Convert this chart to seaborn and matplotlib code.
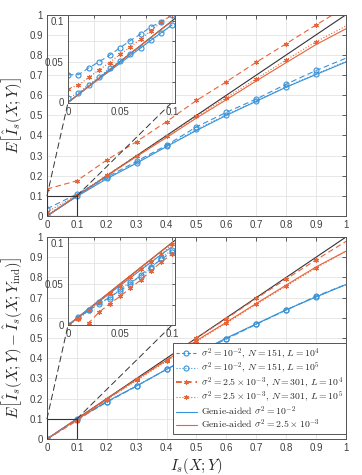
import numpy as np
import pandas as pd
import matplotlib
matplotlib.use("Agg")
import matplotlib.pyplot as plt
import seaborn as sns
from matplotlib.patches import ConnectionPatch, Rectangle
from matplotlib.lines import Line2D

# ---------------- data ----------------
x_main = [0.0, 0.1, 0.2, 0.3, 0.4, 0.5, 0.6, 0.7, 0.8, 0.9, 1.0]
x_zoom = [0.0, 0.01, 0.02, 0.03, 0.04, 0.05, 0.06, 0.07, 0.08, 0.09, 0.1]
ref_line = [0.0, 1.0]

genie_blue = [0.0, 0.097, 0.185, 0.263, 0.345, 0.425, 0.500, 0.570, 0.640, 0.703, 0.765]
genie_orange = [0.0, 0.100, 0.199, 0.296, 0.390, 0.487, 0.578, 0.671, 0.762, 0.852, 0.930]
genie_blue_zoom = [0.0, 0.0098, 0.0195, 0.029, 0.0385, 0.048, 0.0575, 0.067, 0.0765, 0.086, 0.095]
genie_orange_zoom = [0.0, 0.010, 0.020, 0.030, 0.040, 0.050, 0.060, 0.070, 0.080, 0.090, 0.0995]

# top panel: E[I_s(X;Y)]
top_blue_L4 = [0.036, 0.109, 0.193, 0.272, 0.352, 0.443, 0.515, 0.581, 0.655, 0.723, 0.784]
top_blue_L5 = [0.006, 0.100, 0.187, 0.265, 0.347, 0.430, 0.503, 0.572, 0.642, 0.706, 0.768]
top_orange_L4 = [0.134, 0.175, 0.278, 0.370, 0.469, 0.574, 0.667, 0.764, 0.856, 0.949, 1.040]
top_orange_L5 = [0.020, 0.103, 0.203, 0.300, 0.396, 0.495, 0.588, 0.682, 0.775, 0.866, 0.944]
top_blue_L4_zoom = [0.034, 0.034, 0.0425, 0.050, 0.058, 0.067, 0.076, 0.084, 0.093, 0.099, 0.107]
top_blue_L5_zoom = [0.005, 0.012, 0.022, 0.031, 0.042, 0.051, 0.060, 0.067, 0.077, 0.085, 0.095]
top_orange_L5_zoom = [0.017, 0.021, 0.031, 0.040, 0.049, 0.059, 0.068, 0.078, 0.088, 0.099, 0.108]

# bottom panel: E[I_s(X;Y) - I_s(X;Y_ind)]
bot_blue_L4 = [0.0, 0.096, 0.182, 0.262, 0.345, 0.422, 0.495, 0.568, 0.638, 0.707, 0.765]
bot_blue_L5 = [0.0, 0.097, 0.184, 0.263, 0.345, 0.424, 0.497, 0.569, 0.639, 0.705, 0.764]
bot_orange_L4 = [0.0, 0.090, 0.196, 0.295, 0.393, 0.500, 0.596, 0.696, 0.792, 0.887, 0.978]
bot_orange_L5 = [0.0, 0.095, 0.195, 0.290, 0.385, 0.483, 0.574, 0.667, 0.757, 0.847, 0.930]
bot_blue_L4_zoom = [0.0, 0.009, 0.018, 0.026, 0.034, 0.042, 0.050, 0.061, 0.071, 0.080, 0.089]
bot_blue_L5_zoom = [0.0, 0.010, 0.019, 0.028, 0.032, 0.044, 0.052, 0.059, 0.069, 0.082, 0.091]
bot_orange_L4_zoom = [-0.020, -0.009, 0.003, 0.016, 0.026, 0.035, 0.045, 0.055, 0.066, 0.077, 0.086]
bot_orange_L5_zoom = [0.0, 0.008, 0.018, 0.028, 0.039, 0.048, 0.058, 0.068, 0.077, 0.086, 0.098]

main_ticks = [0.0, 0.1, 0.2, 0.3, 0.4, 0.5, 0.6, 0.7, 0.8, 0.9, 1.0]
main_ticklabels = ["0", "0.1", "0.2", "0.3", "0.4", "0.5", "0.6", "0.7", "0.8", "0.9", "1"]
zoom_ticks = [0.0, 0.025, 0.05, 0.075, 0.1]
zoom_ticklabels = ["0", "", "0.05", "", "0.1"]

legend_labels = [
    r"$\sigma^2 = 10^{-2}$, $N = 151$, $L = 10^4$",
    r"$\sigma^2 = 10^{-2}$, $N = 151$, $L = 10^5$",
    r"$\sigma^2 = 2.5 \times 10^{-3}$, $N = 301$, $L = 10^4$",
    r"$\sigma^2 = 2.5 \times 10^{-3}$, $N = 301$, $L = 10^5$",
    r"Genie-aided $\sigma^2 = 10^{-2}$",
    r"Genie-aided $\sigma^2 = 2.5 \times 10^{-3}$",
]

# ---------------- style ----------------
sns.set_theme(style="white")
plt.rcParams["font.family"] = ["Liberation Sans", "DejaVu Sans"]
plt.rcParams["mathtext.fontset"] = "cm"
plt.rcParams["axes.unicode_minus"] = False

BLUE = "#3a93d8"
ORANGE = "#e6643a"
BLACK = "#333333"
LW = 0.8
TICKC = "#404040"
MS = 3.6

W, H = 362, 475
fig = plt.figure(figsize=(W / 100, H / 100), dpi=100)


def fx(px):
    return px / W


def fy(py):
    return 1 - py / H


ax_top = fig.add_axes([fx(47), fy(216), fx(346) - fx(47), fy(14.7) - fy(216)])
ax_bot = fig.add_axes([fx(47), fy(439), fx(346) - fx(47), fy(237) - fy(439)])
in_top = fig.add_axes([fx(68), fy(102.5), fx(175) - fx(68), fy(14.7) - fy(102.5)])
in_bot = fig.add_axes([fx(68), fy(325.3), fx(175) - fx(68), fy(237) - fy(325.3)])


def draw(ax, x, y, color, ls, marker=None, mfc="none", ms=MS, me=None, lw=LW):
    kw = dict(x=x, y=y, ax=ax, color=color, linestyle=ls, lw=lw,
              estimator=None, sort=False, legend=False)
    if marker is not None:
        kw.update(marker=marker, markersize=ms, markerfacecolor=mfc,
                  markeredgecolor=color, markeredgewidth=0.8)
        if me is not None:
            kw.update(markevery=me)
    sns.lineplot(**kw)


main_me = list(range(10))
ASTER = (6, 2, 0)


def style_axes(ax, ticks, labels, lim, fs=7):
    ax.set_xlim(lim[0], lim[1])
    ax.set_ylim(lim[2], lim[3])
    ax.set_xticks(ticks)
    ax.set_yticks(ticks)
    ax.set_xticklabels(labels)
    ax.set_yticklabels(labels)
    ax.tick_params(direction="in", length=3, width=0.6, top=True, right=True,
                   labelsize=fs, colors=TICKC, pad=3)
    ax.grid(True, color="#e3e3e3", lw=0.6)
    ax.set_axisbelow(True)
    for s in ax.spines.values():
        s.set_color("#555555")
        s.set_linewidth(0.7)
        s.set_visible(True)
    ax.set_xlabel("")
    ax.set_ylabel("")
    ax.set_facecolor("white")


for ax, bl4, bl5, ol4, ol5 in [
    (ax_top, top_blue_L4, top_blue_L5, top_orange_L4, top_orange_L5),
    (ax_bot, bot_blue_L4, bot_blue_L5, bot_orange_L4, bot_orange_L5),
]:
    draw(ax, ref_line, ref_line, BLACK, "-")
    draw(ax, x_main, genie_blue, BLUE, "-")
    draw(ax, x_main, genie_orange, ORANGE, "-")
    draw(ax, x_main, bl4, BLUE, (0, (5, 3)), "o", me=main_me)
    draw(ax, x_main, bl5, BLUE, ":", "o", me=main_me)
    draw(ax, x_main, ol4, ORANGE, (0, (5, 3)), ASTER, me=main_me)
    draw(ax, x_main, ol5, ORANGE, ":", ASTER, me=main_me)
    style_axes(ax, main_ticks, main_ticklabels, (0, 1, 0, 1))
    ax.add_patch(Rectangle((0, 0), 0.1, 0.1, fill=False, ec=BLACK, lw=0.8, zorder=5))

# ---- insets ----
draw(in_top, ref_line, ref_line, BLACK, "-")
draw(in_top, x_zoom, genie_blue_zoom, BLUE, "-")
draw(in_top, x_zoom, genie_orange_zoom, ORANGE, "-")
draw(in_top, x_zoom, top_blue_L4_zoom, BLUE, (0, (5, 3)), "o")
draw(in_top, x_zoom, top_blue_L5_zoom, BLUE, ":", "o")
draw(in_top, x_zoom, top_orange_L5_zoom, ORANGE, ":", ASTER)
style_axes(in_top, zoom_ticks, zoom_ticklabels, (0, 0.103, 0, 0.1077))

draw(in_bot, ref_line, ref_line, BLACK, "-")
draw(in_bot, x_zoom, genie_blue_zoom, BLUE, "-")
draw(in_bot, x_zoom, genie_orange_zoom, ORANGE, "-")
draw(in_bot, x_zoom, bot_blue_L4_zoom, BLUE, (0, (5, 3)), "o")
draw(in_bot, x_zoom, bot_blue_L5_zoom, BLUE, ":", "o")
draw(in_bot, x_zoom, bot_orange_L4_zoom, ORANGE, (0, (5, 3)), ASTER)
draw(in_bot, x_zoom, bot_orange_L5_zoom, ORANGE, ":", ASTER)
style_axes(in_bot, zoom_ticks, zoom_ticklabels, (0, 0.103, 0, 0.107))

for ax in (in_top, in_bot):
    ax.tick_params(length=2.5)
    ax.set_zorder(10)

# connector lines
for ax, axin in [(ax_top, in_top), (ax_bot, in_bot)]:
    for xa, xb in [(0.0, 0.0), (0.1, 0.1)]:
        cp = ConnectionPatch(xyA=(xa, 0.1), coordsA=ax.transData,
                             xyB=(xb, 0.0), coordsB=axin.transData,
                             color=BLACK, lw=0.7, linestyle=(0, (6, 4)), zorder=3)
        fig.add_artist(cp)

# labels
ax_top.set_ylabel(r"$E\left[\hat{I}_s\left(X;Y\right)\right]$", fontsize=11, labelpad=4)
ax_bot.set_ylabel(r"$E\left[\hat{I}_s\left(X;Y\right)-\hat{I}_s\left(X;Y_{\mathrm{ind}}\right)\right]$",
                  fontsize=11, labelpad=4)
ax_bot.set_xlabel(r"$I_s\left(X;Y\right)$", fontsize=11, labelpad=2)

# legend
handles = [
    Line2D([], [], color=BLUE, ls=(0, (3, 2)), lw=LW, marker="o", ms=MS, mfc="none", mec=BLUE, mew=0.8),
    Line2D([], [], color=BLUE, ls=":", lw=LW, marker="o", ms=MS, mfc="none", mec=BLUE, mew=0.8),
    Line2D([], [], color=ORANGE, ls=(0, (3, 2)), lw=1.4, marker=ASTER, ms=3.2, mec=ORANGE, mew=0.8),
    Line2D([], [], color=ORANGE, ls=":", lw=LW, marker=ASTER, ms=3.2, mec=ORANGE, mew=0.8),
    Line2D([], [], color=BLUE, ls="-", lw=LW),
    Line2D([], [], color=ORANGE, ls="-", lw=LW),
]
leg = ax_bot.legend(handles, legend_labels, loc="lower right", bbox_to_anchor=(1.0, 0.025),
                    borderaxespad=0.0, handlelength=2.2, handletextpad=0.4,
                    labelspacing=0.0, borderpad=0.28, fancybox=False, framealpha=1,
                    edgecolor="#555555", prop={"family": ["cmr10", "DejaVu Serif"], "size": 7.0})
leg.get_frame().set_linewidth(0.7)
leg.set_zorder(20)

fig.savefig("out.png", dpi=100)
